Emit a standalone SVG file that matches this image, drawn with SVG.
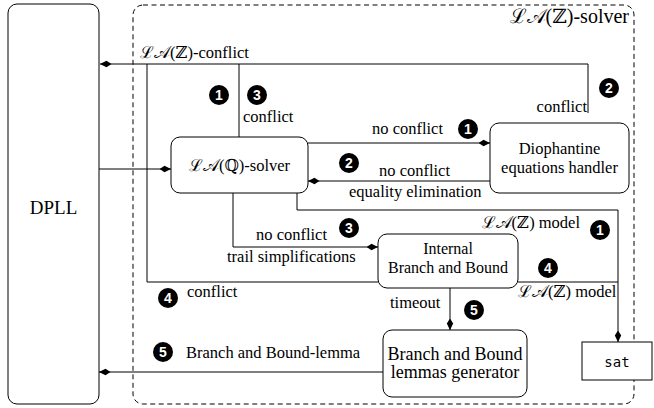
<svg xmlns="http://www.w3.org/2000/svg" width="654" height="408" viewBox="0 0 654 408">
<style>
.box{fill:#fff;stroke:#000;stroke-width:1}
.ln{fill:none;stroke:#000;stroke-width:1}
.t{font-family:'Liberation Serif','DejaVu Serif',serif;font-size:16.5px;fill:#000}
.tb{font-family:'Liberation Serif','DejaVu Serif',serif;font-size:18px;fill:#000}
.nc{fill:#000}
.nt{font-family:'Liberation Sans',sans-serif;font-size:14px;font-weight:600;fill:#fff;text-anchor:middle}
.mid{text-anchor:middle}
</style>
<defs>
<marker id="a" markerWidth="12" markerHeight="8" refX="11.5" refY="4" orient="auto" markerUnits="userSpaceOnUse">
<path d="M11.5,4 L5,0.8 L0,4 L5,7.2 Z" fill="#000"/>
</marker>
</defs>

<g id="solver-frame">
<rect x="133" y="5" width="501" height="399" rx="10" fill="none" stroke="#000" stroke-width="1" stroke-dasharray="5,3.5"/>
<text class="t" x="629" y="23" text-anchor="end" style="font-size:20px">ℒ𝒜(ℤ)-solver</text>
</g>

<g id="connectors">
<polyline class="ln" points="588,113 588,64 100,64" marker-end="url(#a)"/>
<polyline class="ln" points="378,282 147,282 147,64"/>
<line class="ln" x1="239" y1="137" x2="239" y2="64"/>
<line class="ln" x1="99" y1="169" x2="171" y2="169" marker-end="url(#a)"/>
<line class="ln" x1="308" y1="143" x2="490" y2="143" marker-end="url(#a)"/>
<line class="ln" x1="490" y1="181" x2="308" y2="181" marker-end="url(#a)"/>
<polyline class="ln" points="297,193 297,210 618,210 618,342" marker-end="url(#a)"/>
<polyline class="ln" points="233,193 233,247 378,247" marker-end="url(#a)"/>
<line class="ln" x1="518" y1="282" x2="618" y2="282"/>
<line class="ln" x1="450" y1="288" x2="450" y2="330" marker-end="url(#a)"/>
<line class="ln" x1="383" y1="372" x2="99" y2="372" marker-end="url(#a)"/>

<text class="t" x="140" y="58">ℒ𝒜(ℤ)-conflict</text>
<text class="t" x="243" y="122">conflict</text>
<text class="t" x="587" y="112" text-anchor="end">conflict</text>
<text class="t" x="372" y="134">no conflict</text>
<text class="t" x="379" y="176">no conflict</text>
<text class="t" x="349" y="197">equality elimination</text>
<text class="t" x="580" y="228" text-anchor="end">ℒ𝒜(ℤ) model</text>
<text class="t" x="256" y="240">no conflict</text>
<text class="t" x="227" y="262">trail simplifications</text>
<text class="t" x="187" y="297">conflict</text>
<text class="t" x="518" y="297">ℒ𝒜(ℤ) model</text>
<text class="t" x="390" y="308">timeout</text>
<text class="t" x="186" y="358">Branch and Bound-lemma</text>

<g id="badges">
<circle class="nc" cx="219" cy="95" r="10"/><text class="nt" x="219" y="100">1</text>
<circle class="nc" cx="257" cy="95" r="10"/><text class="nt" x="257" y="100">3</text>
<circle class="nc" cx="468" cy="129" r="10"/><text class="nt" x="468" y="134">1</text>
<circle class="nc" cx="609" cy="88" r="10"/><text class="nt" x="609" y="93">2</text>
<circle class="nc" cx="349" cy="163" r="10"/><text class="nt" x="349" y="168">2</text>
<circle class="nc" cx="600" cy="230" r="10"/><text class="nt" x="600" y="235">1</text>
<circle class="nc" cx="349" cy="228" r="10"/><text class="nt" x="349" y="233">3</text>
<circle class="nc" cx="168" cy="298" r="10"/><text class="nt" x="168" y="303">4</text>
<circle class="nc" cx="548" cy="268" r="10"/><text class="nt" x="548" y="273">4</text>
<circle class="nc" cx="474" cy="310" r="10"/><text class="nt" x="474" y="315">5</text>
<circle class="nc" cx="163" cy="352" r="10"/><text class="nt" x="163" y="357">5</text>
</g>
</g>

<g id="dpll">
<rect class="box" x="8" y="4" width="91" height="400" rx="9"/>
<text class="tb mid" x="53.5" y="214" style="font-size:19px">DPLL</text>
</g>

<g id="laq-solver">
<rect class="box" x="171" y="137" width="137" height="56" rx="9"/>
<text class="t mid" x="239.5" y="171">ℒ𝒜(ℚ)-solver</text>
</g>

<g id="diophantine">
<rect class="box" x="490" y="123" width="139" height="70" rx="9"/>
<text class="t mid" x="559.5" y="154">Diophantine</text>
<text class="t mid" x="559.5" y="173">equations handler</text>
</g>

<g id="internal-bb">
<rect class="box" x="378" y="234" width="140" height="54" rx="9"/>
<text class="t mid" x="448" y="254" style="font-size:16px">Internal</text>
<text class="t mid" x="448" y="273" style="font-size:16px">Branch and Bound</text>
</g>

<g id="bb-lemmas">
<rect class="box" x="383" y="330" width="144" height="67" rx="9"/>
<text class="tb mid" x="455" y="360">Branch and Bound</text>
<text class="tb mid" x="455" y="378">lemmas generator</text>
</g>

<g id="sat">
<rect class="box" x="582" y="342" width="70" height="38"/>
<text x="617" y="367" text-anchor="middle" style="font-family:'DejaVu Sans Mono',monospace;font-size:14px">sat</text>
</g>
</svg>
